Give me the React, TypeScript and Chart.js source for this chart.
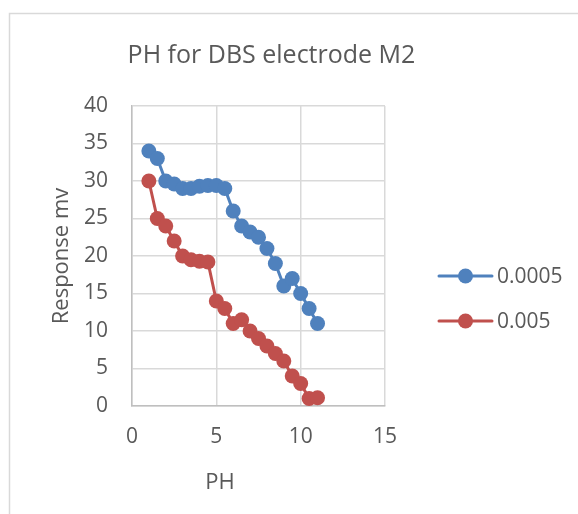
import React, { useEffect, useRef } from "react";
import { Chart, registerables } from "chart.js";

Chart.register(...registerables);

const TITLE = "PH for DBS electrode M2";
const X_TITLE = "PH";
const Y_TITLE = "Response mv";
const SERIES_LABELS = ["0.0005", "0.005"];
const PH_VALUES = [1, 1.5, 2, 2.5, 3, 3.5, 4, 4.5, 5, 5.5, 6, 6.5, 7, 7.5, 8, 8.5, 9, 9.5, 10, 10.5, 11];
const RESPONSE_0005 = [34, 33, 30, 29.6, 29, 29, 29.3, 29.4, 29.4, 29, 26, 24, 23.2, 22.5, 21, 19, 16, 17, 15, 13, 11];
const RESPONSE_005 = [30, 25, 24, 22, 20, 19.5, 19.3, 19.2, 14, 13, 11, 11.5, 10, 9, 8, 7, 6, 4, 3, 1, 1.1];
const COLORS = ["#4F81BD", "#C0504D"];

const FONT = "'Open Sans', sans-serif";
const TEXT_COLOR = "#595959";

const decorPlugin = {
  id: "decor",
  beforeDraw(chart: any) {
    const ctx = chart.ctx;
    ctx.save();
    ctx.fillStyle = "#ffffff";
    ctx.fillRect(0, 0, chart.width, chart.height);
    ctx.strokeStyle = "#d9d9d9";
    ctx.lineWidth = 1.5;
    ctx.beginPath();
    ctx.moveTo(9.5, chart.height + 5);
    ctx.lineTo(9.5, 13.5);
    ctx.lineTo(chart.width + 5, 13.5);
    ctx.stroke();
    ctx.restore();
  },
  afterDraw(chart: any) {
    const ctx = chart.ctx;
    const area = chart.chartArea;
    ctx.save();
    ctx.fillStyle = TEXT_COLOR;
    ctx.font = `25px ${FONT}`;
    ctx.textAlign = "center";
    ctx.textBaseline = "alphabetic";
    ctx.fillText(TITLE, 271.5, 63);
    ctx.font = `22px ${FONT}`;
    ctx.fillText(X_TITLE, 220, 489);
    ctx.save();
    ctx.translate(68, (area.top + area.bottom) / 2);
    ctx.rotate(-Math.PI / 2);
    ctx.fillText(Y_TITLE, 0, 0);
    ctx.restore();
    const ys = [276, 321];
    chart.data.datasets.forEach((ds: any, i: number) => {
      const y = ys[i];
      ctx.strokeStyle = ds.borderColor;
      ctx.lineWidth = 3;
      ctx.lineCap = "round";
      ctx.beginPath();
      ctx.moveTo(439, y);
      ctx.lineTo(492, y);
      ctx.stroke();
      ctx.fillStyle = ds.pointBackgroundColor;
      ctx.beginPath();
      ctx.arc(465.5, y, 7.5, 0, Math.PI * 2);
      ctx.fill();
      ctx.fillStyle = TEXT_COLOR;
      ctx.font = `21px ${FONT}`;
      ctx.textAlign = "left";
      ctx.textBaseline = "middle";
      ctx.fillText(ds.label, 497, y + 1);
    });
    ctx.restore();
  },
};

export default function App() {
  const ref = useRef<HTMLCanvasElement | null>(null);
  useEffect(() => {
    if (!ref.current) return;
    const mk = (vals: number[]) => PH_VALUES.map((x, i) => ({ x, y: vals[i] }));
    const chart = new Chart(ref.current, {
      type: "scatter",
      data: {
        datasets: [RESPONSE_0005, RESPONSE_005].map((vals, i) => ({
          label: SERIES_LABELS[i],
          data: mk(vals),
          showLine: true,
          borderColor: COLORS[i],
          backgroundColor: COLORS[i],
          pointBackgroundColor: COLORS[i],
          pointBorderColor: COLORS[i],
          pointRadius: 7.5,
          pointBorderWidth: 0,
          borderWidth: 3,
          tension: 0,
        })),
      },
      options: {
        animation: false,
        responsive: false,
        layout: { padding: { top: 106, right: 193, left: 0, bottom: 0 } },
        plugins: { legend: { display: false }, title: { display: false }, tooltip: { enabled: false } },
        scales: {
          x: {
            type: "linear",
            min: 0,
            max: 15,
            ticks: { stepSize: 5, color: TEXT_COLOR, font: { family: FONT, size: 21 }, padding: 18 },
            grid: { color: "#d9d9d9", lineWidth: 1.5, drawTicks: false },
            border: { display: true, color: "#bfbfbf", width: 1.5 },
            afterFit: (s: any) => { s.height = 108; },
          },
          y: {
            type: "linear",
            min: 0,
            max: 40,
            ticks: { stepSize: 5, color: TEXT_COLOR, font: { family: FONT, size: 21 }, padding: 24 },
            grid: { color: "#d9d9d9", lineWidth: 1.5, drawTicks: false },
            border: { display: true, color: "#bfbfbf", width: 1.5 },
            afterFit: (s: any) => { s.width = 132; },
          },
        },
      },
      plugins: [decorPlugin],
    } as any);
    return () => chart.destroy();
  }, []);
  return (
    <div style={{ position: "fixed", left: 0, top: 0, width: 578, height: 514, background: "#fff" }}>
      <canvas ref={ref} width={578} height={514} style={{ display: "block" }} />
    </div>
  );
}
